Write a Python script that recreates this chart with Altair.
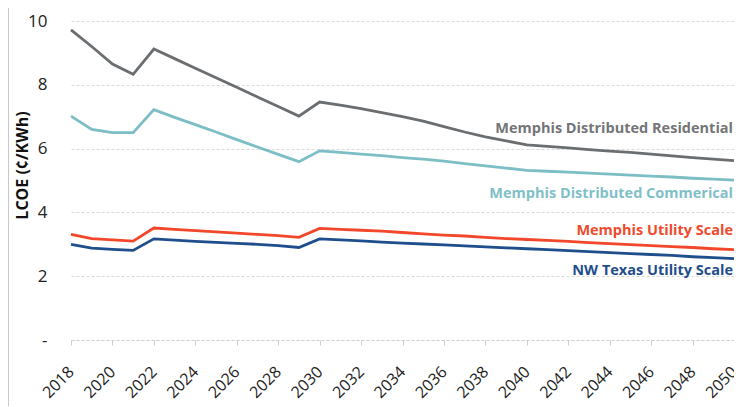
import altair as alt
import pandas as pd

years = list(range(2018, 2051))

residential = [9.72, 9.20, 8.65, 8.33, 9.12, 8.82, 8.52, 8.22, 7.92, 7.62, 7.32, 7.02,
               7.46, 7.36, 7.25, 7.13, 7.00, 6.86, 6.69, 6.52, 6.37, 6.24, 6.12,
               6.07, 6.02, 5.97, 5.92, 5.88, 5.83, 5.77, 5.72, 5.67, 5.62]
commercial = [7.02, 6.60, 6.50, 6.50, 7.22, 6.98, 6.75, 6.52, 6.28, 6.05, 5.82, 5.59,
              5.93, 5.88, 5.83, 5.78, 5.72, 5.67, 5.61, 5.53, 5.46, 5.39, 5.32,
              5.29, 5.26, 5.23, 5.20, 5.17, 5.14, 5.11, 5.07, 5.04, 5.01]
memphis_utility = [3.31, 3.18, 3.14, 3.10, 3.51, 3.47, 3.43, 3.39, 3.35, 3.31, 3.27, 3.22,
                   3.50, 3.47, 3.44, 3.41, 3.37, 3.33, 3.29, 3.26, 3.22, 3.18, 3.15,
                   3.12, 3.09, 3.05, 3.02, 2.99, 2.96, 2.93, 2.90, 2.86, 2.83]
nw_texas = [3.00, 2.88, 2.84, 2.81, 3.17, 3.13, 3.09, 3.06, 3.03, 3.00, 2.96, 2.90,
            3.17, 3.14, 3.11, 3.07, 3.04, 3.01, 2.98, 2.95, 2.92, 2.89, 2.86,
            2.83, 2.80, 2.77, 2.74, 2.71, 2.68, 2.65, 2.61, 2.58, 2.55]

series_names = ["Memphis Distributed Residential", "Memphis Distributed Commerical",
                "Memphis Utility Scale", "NW Texas Utility Scale"]
series_values = [residential, commercial, memphis_utility, nw_texas]
line_colors = ["#6b6e71", "#7cbec6", "#f2472b", "#1f4e8c"]
label_colors = ["#737578", "#7fc0c8", "#f04a2c", "#1f4e8c"]
label_dy = [-32, 14, -19, 12]

rows = []
for name, vals in zip(series_names, series_values):
    for y, v in zip(years, vals):
        rows.append({"year": y, "value": v, "series": name})
df = pd.DataFrame(rows)

FONT = "Open Sans"
W, H = 663, 319
PAD_L, PAD_T, PAD_B = 63, 13, 66

x_enc = alt.X("year:Q",
              scale=alt.Scale(domain=[2018, 2050], nice=False, zero=False),
              axis=alt.Axis(values=years, format="d", labelAngle=-45, labelAlign="right",
                            labelBaseline="middle", labelFontSize=16, labelColor="#222222",
                            labelFont=FONT, labelPadding=24, labelExpr="datum.value % 2 == 0 ? datum.label : ''",
                            tickColor="#cfcfcf", tickSize=5, domainColor="#cfcfcf",
                            domainDash=[3, 2], grid=False, title=None, labelOverlap=False,
                            labelFlush=False))
y_enc = alt.Y("value:Q",
              scale=alt.Scale(domain=[0, 10], nice=False),
              axis=alt.Axis(values=[0, 2, 4, 6, 8, 10], labelExpr="datum.value == 0 ? '-' : datum.label",
                            labelFontSize=17, labelFont=FONT, labelColor="#222222", labelPadding=24,
                            ticks=False, domain=False, grid=True, gridColor="#d9d9d9", gridDash=[3, 2],
                            title="LCOE (¢/KWh)", titleFont=FONT, titleFontSize=16, titleFontWeight="bold",
                            titleColor="#111111", titleX=-41, titleY=144, titleAngle=-90,
                            titleBaseline="bottom", titleAlign="center"))

lines = alt.Chart(df).mark_line(strokeWidth=2.8).encode(
    x=x_enc, y=y_enc,
    color=alt.Color("series:N", scale=alt.Scale(domain=series_names, range=line_colors), legend=None),
)

layers = [lines]
for name, col, dy in zip(series_names, label_colors, label_dy):
    end = df[(df.series == name) & (df.year == years[-1])]
    layers.append(
        alt.Chart(end).mark_text(align="right", baseline="middle", dx=-1, dy=dy, font=FONT,
                                 fontSize=14.5, fontWeight="bold", color=col).encode(
            x="year:Q", y="value:Q", text="series:N")
    )

border = alt.Chart(df).mark_rule(color="#c8c8c8", strokeWidth=1).encode(
    x=alt.value(-PAD_L + 0.5), y=alt.value(-PAD_T), y2=alt.value(H + PAD_B))
layers.append(border)

chart = alt.layer(*layers).properties(
    width=W, height=H,
    padding={"left": PAD_L, "top": PAD_T, "right": 0, "bottom": PAD_B},
    autosize="none",
).configure_view(stroke=None)

chart.save("out.html", embed_options={"renderer": "svg", "actions": False})
